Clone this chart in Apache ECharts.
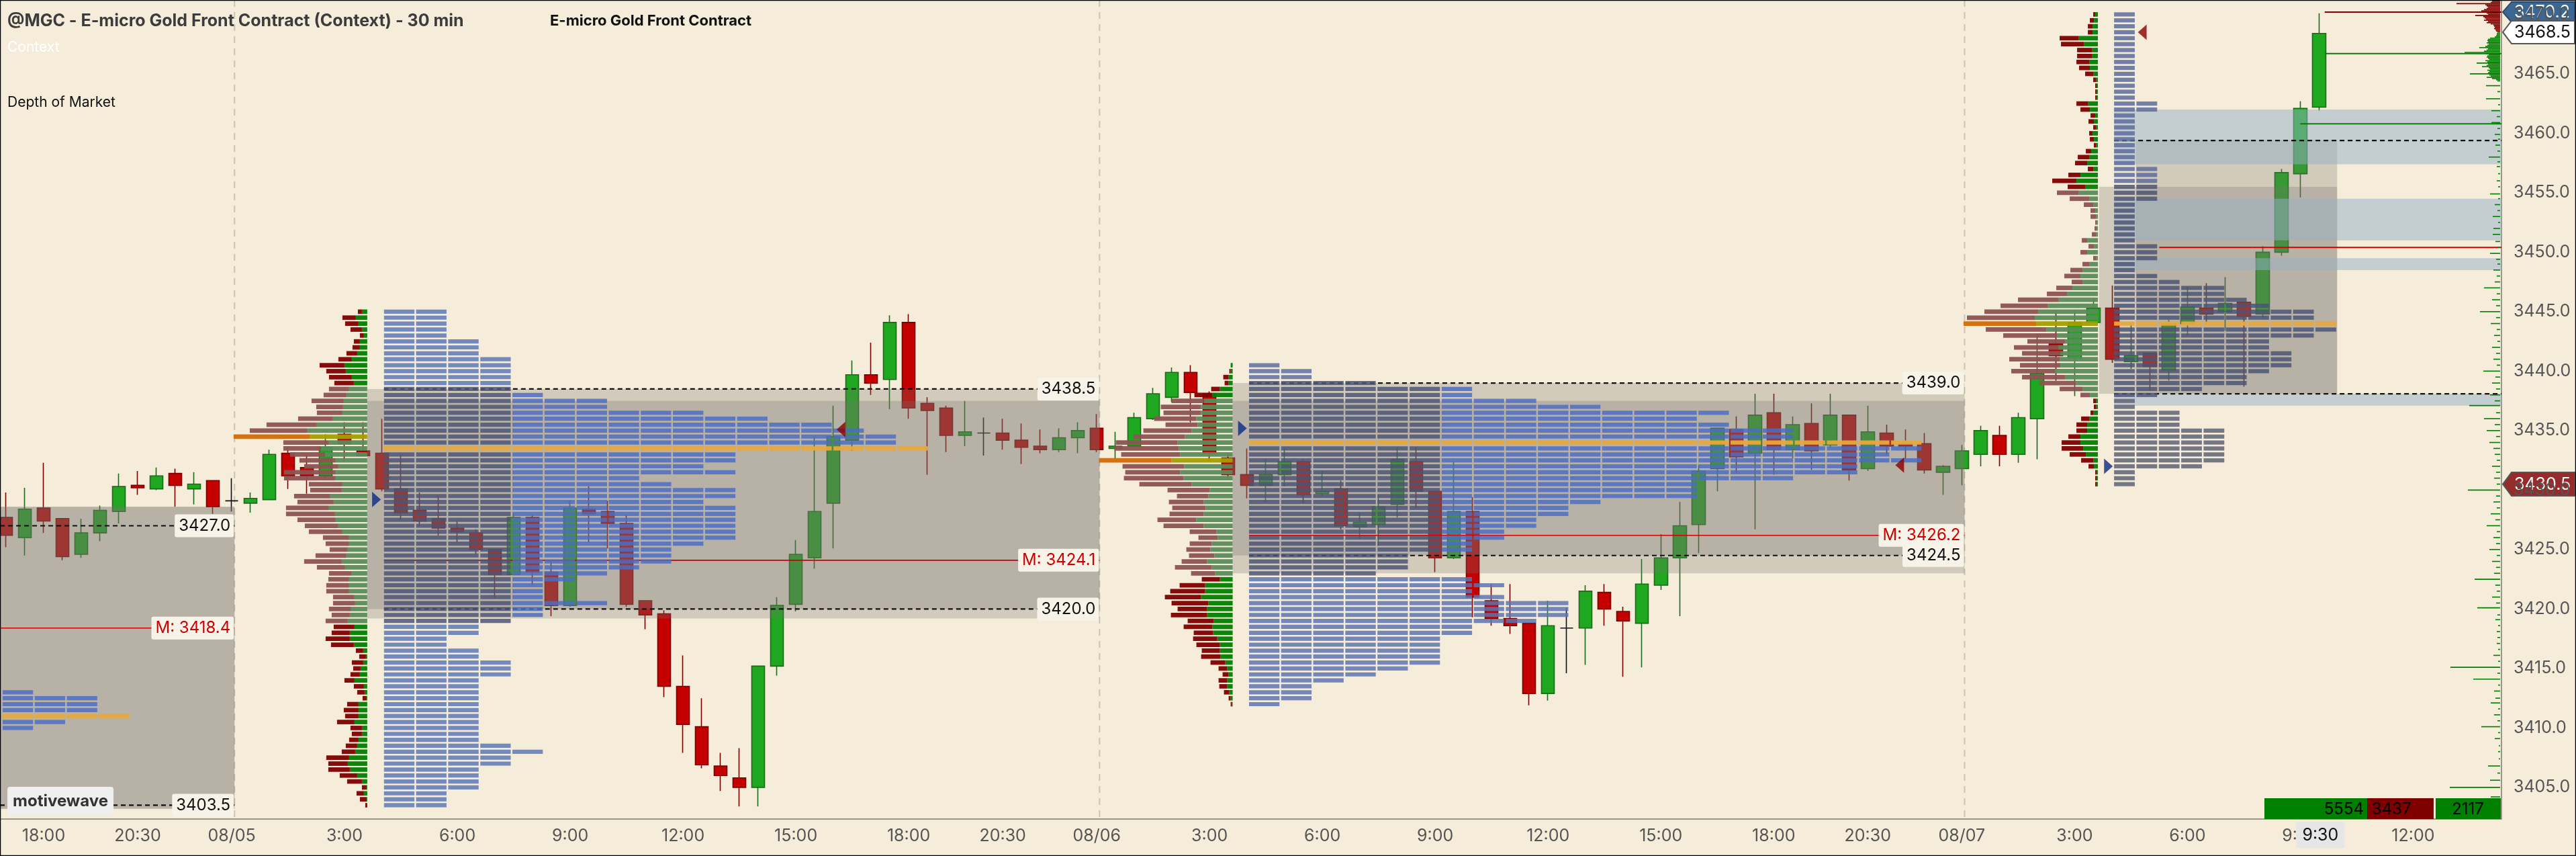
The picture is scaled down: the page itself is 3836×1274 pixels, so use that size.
<!DOCTYPE html>
<html>
<head>
<meta charset="utf-8">
<title>@MGC - E-micro Gold Front Contract (Context) - 30 min</title>
<script src="https://cdn.jsdelivr.net/npm/echarts@6.0.0/dist/echarts.min.js"></script>
<style>
html,body{margin:0;padding:0;background:#f5ecda;overflow:hidden}
#chart{width:3836px;height:1274px}
</style>
</head>
<body>
<div id="chart"></div>
<script>
// ======================= DATA =======================
// 30-min bars, bar index 0 = 08/04 18:00
const firstBar = -2;
const opens = [
 3427.7,3426.0,3428.5,3427.6,3424.6,3426.4,3428.2,3430.4,3430.1,3431.4,
 3430.1,3430.8,3429.1,3428.9,3429.2,3433.1,3431.9,3431.2,3434.7,3433.3,
 3433.1,3430.1,3428.3,3427.6,3426.8,3426.4,3425.0,3422.9,3427.7,3423.1,
 3420.3,3428.4,3428.2,3427.2,3420.7,3419.6,3413.5,3410.1,3406.8,3405.8,
 3405.0,3415.2,3420.4,3424.3,3428.9,3434.2,3439.7,3439.3,3444.1,3437.3,
 3436.9,3434.6,3434.8,3434.8,3434.2,3433.7,3433.4,3434.4,3435.2,3433.5,
 3433.7,3436.0,3437.8,3439.9,3438.1,3432.7,3431.3,3430.4,3431.3,3432.4,
 3429.7,3430.1,3426.9,3427.1,3428.8,3432.4,3429.9,3424.3,3428.2,3420.7,
 3419.2,3418.8,3412.9,3418.4,3418.4,3421.4,3419.8,3418.8,3422.0,3424.3,
 3427.1,3431.8,3435.1,3433.1,3436.5,3433.4,3435.6,3433.8,3436.3,3431.8,
 3434.8,3433.9,3433.9,3431.5,3431.8,3433.0,3434.6,3433.0,3436.0,3442.3,
 3441.1,3444.1,3445.3,3440.8,3441.5,3440.1,3444.0,3445.3,3445.0,3445.8,
 3444.8,3450.0,3456.6,3462.2];
const closes = [
 3426.2,3428.4,3427.4,3424.4,3426.4,3428.3,3430.3,3430.2,3431.2,3430.4,
 3430.5,3428.6,3429.1,3429.3,3433.0,3431.2,3431.2,3433.6,3433.9,3432.9,
 3430.1,3428.1,3427.4,3426.8,3426.5,3425.0,3422.9,3427.7,3423.1,3420.3,
 3428.5,3428.0,3427.2,3420.4,3419.5,3413.5,3410.3,3406.9,3406.0,3405.0,
 3415.2,3420.3,3424.6,3428.2,3434.5,3439.7,3439.0,3444.1,3436.9,3436.7,
 3434.6,3434.9,3434.8,3434.2,3433.6,3433.4,3434.4,3435.0,3433.4,3433.7,
 3436.1,3438.1,3439.9,3438.2,3433.1,3431.3,3430.4,3431.3,3432.4,3429.6,
 3429.9,3427.0,3427.3,3428.6,3432.6,3429.9,3424.3,3428.2,3421.0,3419.2,
 3418.6,3412.9,3418.6,3418.4,3421.5,3420.0,3419.0,3422.1,3424.3,3427.0,
 3431.6,3435.2,3432.8,3436.3,3433.4,3435.5,3433.3,3436.3,3431.7,3434.9,
 3433.7,3433.7,3431.7,3432.0,3433.3,3435.0,3433.0,3436.1,3439.8,3441.3,
 3444.1,3445.3,3441.0,3441.3,3440.4,3444.0,3445.4,3444.8,3445.7,3444.6,
 3450.0,3456.7,3462.1,3468.4];
const lows = [
 3425.2,3424.5,3426.4,3424.1,3424.3,3425.7,3427.2,3429.6,3430.0,3428.6,
 3428.8,3428.0,3428.2,3428.1,3429.2,3430.1,3429.7,3431.0,3432.4,3432.9,
 3429.9,3427.5,3427.0,3426.2,3425.6,3424.6,3420.9,3422.9,3422.0,3419.4,
 3420.2,3425.6,3425.1,3420.2,3418.3,3412.6,3407.9,3406.6,3404.7,3403.4,
 3403.4,3414.4,3419.8,3423.4,3425.1,3433.3,3438.0,3436.8,3436.0,3431.3,
 3433.2,3433.7,3432.9,3433.4,3432.2,3433.1,3433.2,3433.1,3433.2,3432.6,
 3433.6,3435.9,3437.4,3435.7,3432.5,3430.9,3429.3,3429.0,3430.3,3428.9,
 3429.5,3426.7,3425.9,3425.3,3427.7,3428.5,3423.1,3424.2,3419.3,3418.6,
 3417.9,3411.9,3412.3,3414.6,3415.3,3418.6,3414.3,3415.1,3421.6,3419.4,
 3424.7,3429.9,3431.4,3426.7,3431.3,3432.7,3431.7,3433.6,3430.8,3431.6,
 3433.0,3432.6,3431.4,3429.6,3430.4,3432.0,3432.0,3432.3,3432.6,3439.2,
 3437.9,3444.0,3440.7,3440.2,3438.4,3439.2,3443.0,3443.9,3443.4,3438.7,
 3444.5,3449.7,3454.6,3461.9];
const highs = [
 3429.8,3430.2,3432.3,3427.6,3427.6,3428.7,3431.4,3431.6,3431.9,3431.8,
 3431.5,3430.8,3431.0,3429.8,3433.4,3433.7,3432.9,3434.7,3435.7,3435.7,
 3436.0,3432.9,3429.8,3429.5,3427.4,3426.7,3425.0,3428.0,3427.9,3424.0,
 3429.1,3430.3,3429.1,3427.9,3420.7,3419.9,3416.1,3412.5,3407.9,3408.3,
 3415.2,3421.0,3425.8,3434.4,3437.1,3440.9,3442.4,3444.7,3444.8,3437.8,
 3437.1,3437.5,3436.1,3436.0,3435.6,3435.1,3435.2,3435.7,3436.4,3434.9,
 3436.5,3438.6,3440.3,3440.5,3438.3,3433.1,3433.5,3432.6,3433.5,3432.6,
 3431.6,3430.8,3428.1,3429.6,3433.6,3433.6,3429.9,3432.4,3429.4,3422.1,
 3422.1,3418.8,3420.7,3420.1,3422.0,3422.1,3420.2,3424.2,3426.3,3429.0,
 3432.1,3435.2,3436.2,3438.1,3438.1,3436.2,3437.3,3438.1,3436.3,3437.1,
 3435.5,3435.1,3434.8,3432.1,3433.8,3435.4,3435.4,3436.5,3443.1,3445.1,
 3445.1,3446.1,3447.2,3444.0,3441.5,3444.3,3447.1,3447.4,3447.9,3445.8,
 3450.5,3457.0,3462.7,3470.1];

const timeTickIdx = [0,5,10,16,22,28,34,40,46,51,56,62,68,74,80,86,92,97,102,108,114,120,126];
const timeTickLabels = ['18:00','20:30','08/05','3:00','6:00','9:00','12:00','15:00','18:00','20:30','08/06','3:00','6:00','9:00','12:00','15:00','18:00','20:30','08/07','3:00','6:00','9:00','12:00'];
const sessionBreakIdx = [10.15, 56.15, 102.15];
const crosshairIdx = 121, crosshairLabel = '9:30';

// Volume profiles (sell / buy volume per 0.5 row, top row first)
const vp0805Top = 3445.0;
const vp0805Sell = [6,20,20,17,6,9,11,16,20,37,29,34,29,30,34,48,40,38,52,75,86,114,68,56,52,54,51,77,77,50,47,54,54,64,73,57,50,50,39,35,27,46,56,42,34,31,34,34,32,33,33,27,33,31,27,36,34,11,10,17,11,14,15,15,11,6,17,22,20,26,17,15,14,17,20,34,29,32,26,22,7,11,10,3];
const vp0805Buy  = [8,17,13,8,5,11,11,15,23,34,32,23,20,27,31,35,36,37,51,75,89,85,57,69,63,47,43,47,47,37,38,55,50,57,48,47,43,37,27,27,29,31,38,33,23,27,27,27,19,18,24,26,29,19,26,26,20,6,2,6,10,11,19,5,4,1,13,13,13,19,8,8,13,15,18,27,29,26,15,8,1,5,1,0];
const vp0806Top = 3440.5;
const vp0806Sell = [0,2,8,6,13,26,48,60,56,63,48,72,77,92,96,88,108,92,82,89,78,63,47,52,50,51,58,60,40,29,33,36,38,38,55,36,27,38,52,54,55,44,54,39,43,29,36,35,27,29,22,13,9,13,12,8,3,2];
const vp0806Buy  = [3,3,6,6,19,31,43,47,47,54,52,61,71,82,80,78,91,72,78,73,61,34,36,43,40,43,54,43,24,22,31,33,27,38,31,26,19,41,41,47,36,38,38,28,30,29,23,19,19,18,11,8,6,8,8,5,3,1];
const vp0807Top = 3470.0;
const vp0807Sell = [3,6,7,7,28,34,22,22,19,16,12,4,2,2,2,17,14,7,8,4,5,6,3,8,17,18,8,18,36,26,32,29,14,7,8,2,3,6,8,8,10,4,10,18,24,16,24,30,60,70,80,101,108,90,80,56,66,57,75,60,65,64,54,34,14,4,3,4,12,16,16,18,28,32,24,18,8,2,2,2];
const vp0807Buy  = [4,6,8,8,29,21,9,9,13,12,7,3,2,2,2,15,12,4,6,3,8,6,3,10,13,16,7,26,32,19,29,13,7,4,3,2,2,3,16,6,16,3,13,23,26,23,38,46,59,75,89,94,92,77,61,49,59,56,57,56,64,49,33,23,12,3,3,7,13,16,16,26,26,22,18,7,6,2,2,2];
const vpVaHigh = [3438.5, 3437.5, 3455.0];
const vpVaLow  = [3419.0, 3423.0, 3438.0];

// TPO counts per 0.5 row (top row first)
const tpoPrevTop = 3413.0;
const tpoPrev = [1,3,3,3,4,2,1];
const tpo0805Top = 3445.0;
const tpo0805 = [2,2,2,2,2,3,3,3,4,4,4,4,4,4,5,7,7,10,12,14,15,16,16,17,11,11,10,11,8,9,11,11,10,11,11,11,11,11,11,10,9,9,9,8,7,6,5,5,5,7,5,5,4,3,3,2,2,3,3,4,4,4,3,3,3,3,3,3,3,3,3,3,3,4,5,4,4,3,3,3,3,2,2,2];
const tpo0806Top = 3440.5;
const tpo0806 = [1,2,2,4,7,7,9,11,15,14,15,17,17,21,21,20,21,19,19,17,14,14,14,11,10,10,9,9,8,8,7,7,5,5,5,4,7,8,7,8,10,10,10,9,7,7,6,6,6,6,6,5,4,3,2,2,2,1];
const tpo0807Top = 3470.0;
const tpo0807 = [1,1,1,1,1,1,1,1,1,1,1,1,1,1,1,2,2,1,1,1,1,1,1,1,1,1,2,2,2,2,2,2,1,1,1,1,1,1,1,2,2,2,1,1,2,3,5,5,6,7,9,9,10,10,9,7,7,8,8,8,7,6,6,4,2,1,1,3,3,3,5,5,5,5,5,5,4,1,1,1];
const tpoVaHigh = [3413.5, 3438.5, 3439.0, 3455.5];
const tpoVaLow  = [3409.5, 3419.0, 3423.0, 3438.0];

// Value-area boxes (price ranges)
const boxHigh = [3428.6, 3428.6, 3438.5, 3437.5, 3439.0, 3437.5, 3459.45, 3455.5];
const boxLow  = [3403.2, 3403.2, 3420.0, 3419.2, 3424.5, 3423.0, 3438.1, 3438.1];
const boxSession = [0, 0, 1, 1, 2, 2, 3, 3];
const boxPart = [0, 0, 0, 0, 0, 0, 1, 0];

// Single-print / excess bands of 08/07
const bandHigh = [3462.0, 3454.5, 3449.5, 3438.1];
const bandLow  = [3457.4, 3451.0, 3448.5, 3437.1];

// Reference levels: price, session, kind (0 = VA edge, 1 = mid)
const levelPrice   = [3427.0, 3403.5, 3418.4, 3438.5, 3420.0, 3424.1, 3439.0, 3424.5, 3426.2, 3459.4, 3438.1];
const levelSession = [0, 0, 0, 1, 1, 1, 2, 2, 2, 3, 3];
const levelKind    = [0, 0, 1, 0, 0, 1, 0, 0, 1, 0, 0];

// Naked levels of 08/07 (start bar, price, side 0 = sell / 1 = buy / 2 = mid)
const nakedPrice = [3470.2, 3466.7, 3460.8, 3450.4];
const nakedFrom  = [121.3, 121.3, 120.0, 112.5];
const nakedSide  = [0, 1, 1, 2];

// Open / close markers
const markerBar   = [17.7, 42.4, 63.75, 98.7, 109.8, 111.6];
const markerPrice = [3429.2, 3435.1, 3435.2, 3432.1, 3432.0, 3468.5];
const markerDir   = [1, -1, 1, -1, 1, -1];

// Depth of market
const askPrice = [3468.6,3468.7,3468.8,3468.9,3469.0,3469.1,3469.2,3469.3,3469.4,3469.5,3469.6,3469.7,3469.8,3469.9,3470.0,3470.1,3470.2,3470.3,3470.4,3470.5,3470.6,3470.7,3470.8,3470.9,3471.0,3471.1,3471.2];
const askSize  = [6,7,9,8,9,10,14,20,18,24,21,23,25,37,18,20,22,28,24,20,18,20,22,65,14,12,8];
const bidPrice = [3468.5,3468.4,3468.3,3468.2,3468.1,3468.0,3467.9,3467.8,3467.7,3467.6,3467.5,3467.4,3467.3,3467.2,3467.1,3467.0,3466.9,3466.8,3466.7,3466.6,3466.5,3466.4,3466.3,3466.2,3466.1,3466.0,3465.9,3465.8,3465.7,3465.6,3465.5,3465.4,3465.3,3465.2,3465.1,3465.0,3464.9,3464.8,3464.7,3464.6,3464.5,3464.4,
 3464.0,3463.5,3462.9,3462.4,3461.9,3461.4,3460.9,3460.8,3460.4,3459.9,3459.5,3459.0,3458.5,3458.0,3457.6,3457.2,3456.6,3456.0,3455.5,3454.9,3454.5,3454.0,3453.5,3453.0,3452.5,3452.0,3451.5,3450.9,3450.4,3449.9,3449.4,3449.0,3448.5,3448.0,3447.5,3447.0,3446.5,3446.0,3445.5,3445.0,3444.5,3444.0,3443.5,3443.0,3442.5,3442.0,3441.5,3441.0,3440.5,3440.0,3439.5,3439.0,3438.5,3438.0,3437.5,3437.1,3436.5,3436.0,3435.5,3435.0,3434.5,3434.0,3433.5,3433.0,3432.5,3432.0,3431.5,3431.0,3430.5,3430.0,3429.5,3429.0,3428.5,3428.0,3427.5,3427.0,3426.5,3426.0,3425.5,3425.0,3424.5,3424.0,3423.5,3423.0,3422.5,3422.0,3421.5,3421.0,3420.5,3420.1,3419.5,3419.1,3418.6,3418.1,3417.6,3417.1,3416.6,3416.1,3415.6,3415.1,3414.6,3414.1,3413.6,3413.1,3412.5,3412.1,3411.6,3411.1,3410.6,3410.1,3409.6,3409.1,3408.5,3408.0,3407.4,3406.8,3406.2,3405.6,3405.0,3404.2,3403.5,3403.0,3402.6];
const bidSize  = [4,5,5,6,8,15,18,19,18,20,17,19,22,31,18,20,24,53,21,17,19,20,18,16,22,19,35,18,20,27,17,15,19,16,18,45,16,14,20,12,6,4,
 21,4,21,3,13,5,13,6,4,8,3,7,4,17,4,5,3,5,3,15,3,8,4,11,3,10,11,7,4,15,6,4,10,5,8,24,5,12,6,30,6,14,5,9,4,12,6,10,5,25,7,12,6,15,8,46,6,24,8,20,6,16,10,8,5,12,6,9,5,48,6,10,5,14,7,20,5,10,6,16,5,12,6,9,38,7,5,12,6,34,4,7,3,5,4,5,3,10,3,74,4,40,3,9,7,14,3,9,4,28,3,8,2,3,2,18,4,15,75,14,8,5,4];
const domTotals = [5554, 3437, 2117];

// Price tags on the axis
const tagHigh = 3470.2, tagLast = 3468.5, tagRef = 3430.5;

// ======================= LAYOUT / STYLE =======================
const X_MIN = -2.32, X_MAX = 130.7, Y_MIN = 3402.34, Y_MAX = 3471.21;
const ROW = 0.5;
const VOL_PER_BAR = 28;   // volume units drawn across one bar width
const FONT = 'Inter, Roboto, "Noto Sans", sans-serif';
const sessionX = [[X_MIN, 10.15], [17.21, 56.15], [63.23, 102.15], [109.3, 121.96]];
const levelStart = [X_MIN, 18.1, 64.1, 110.1];
const levelEnd = [10.15, 56.15, 102.15, X_MAX];
const box0807Inner = 111.25;
const vpRight = [17.21, 63.23, 109.24];
const tpoStart = [-2.18, 18.1, 64.1, 110.1];
const tpoSeg = [1.707, 1.707, 1.707, 1.19];
const tpoDarkCols = [0, 4, 6, 99];
const tpoAbove = ['#5b76b6', '#5b76b6', '#5b6c9e', '#5b6a9c'];
const tpoBelow = ['#5b76b6', '#5b76b6', '#5a73b0', '#5c6274'];

const vpSets = [[vp0805Top, vp0805Sell, vp0805Buy], [vp0806Top, vp0806Sell, vp0806Buy], [vp0807Top, vp0807Sell, vp0807Buy]];
const tpoSets = [[tpoPrevTop, tpoPrev], [tpo0805Top, tpo0805], [tpo0806Top, tpo0806], [tpo0807Top, tpo0807]];

// ---- build series data ----
const candleData = opens.map((o, i) => [firstBar + i, o, closes[i], lows[i], highs[i]]);

const vpData = [];
vpSets.forEach(([top, sell, buy], s) => {
  let poc = 0;
  sell.forEach((v, i) => { if (v + buy[i] > sell[poc] + buy[poc]) poc = i; });
  sell.forEach((v, i) => {
    const price = top - i * ROW;
    const flag = i === poc ? 2 : (price <= vpVaHigh[s] && price >= vpVaLow[s] ? 1 : 0);
    vpData.push([vpRight[s], price, v, buy[i], flag]);
  });
});

const tpoData = [];
tpoSets.forEach(([top, counts], s) => {
  let poc = 0;
  counts.forEach((c, i) => { if (c > counts[poc]) poc = i; });
  counts.forEach((c, i) => {
    const price = top - i * ROW;
    const flag = i === poc ? 2 : (price <= tpoVaHigh[s] && price >= tpoVaLow[s] ? 1 : (price > tpoVaHigh[s] ? 0 : 3));
    tpoData.push([tpoStart[s], price, c, s, flag]);
  });
});

const boxData = boxHigh.map((h, i) => {
  const s = boxSession[i];
  const x1 = boxPart[i] ? box0807Inner : sessionX[s][0];
  return [x1, h, sessionX[s][1], boxLow[i]];
});
const bandData = bandHigh.map((h, i) => [levelStart[3], h, X_MAX, bandLow[i]]);
const levelData = levelPrice.map((p, i) => [levelStart[levelSession[i]], p, levelEnd[levelSession[i]], levelKind[i]]);
const labelData = levelPrice.map((p, i) => [levelEnd[levelSession[i]], p, levelKind[i], levelSession[i]]).filter(d => d[3] < 3);
const nakedData = nakedPrice.map((p, i) => [nakedFrom[i], p, nakedSide[i]]);
const breakData = sessionBreakIdx.map(x => [x, Y_MIN]);
const domData = askPrice.map((p, i) => [X_MAX, p, askSize[i], 0]).concat(bidPrice.map((p, i) => [X_MAX, p, bidSize[i], 1]));
const markerData = markerBar.map((x, i) => ({
  value: [x, markerPrice[i]],
  symbolRotate: markerDir[i] > 0 ? -90 : 90,
  itemStyle: {color: markerDir[i] > 0 ? '#0d2b82' : '#8a0000'}
}));

// ---- renderers ----
function rectFrom(api, x1, y1, x2, y2) {
  const a = api.coord([x1, y1]), b = api.coord([x2, y2]);
  return {x: Math.min(a[0], b[0]), y: Math.min(a[1], b[1]), width: Math.abs(b[0] - a[0]), height: Math.abs(b[1] - a[1])};
}
function renderBreak(params, api) {
  const x = api.value(0);
  const a = api.coord([x, Y_MAX]), b = api.coord([x, Y_MIN]);
  return {type: 'line', shape: {x1: a[0], y1: a[1], x2: b[0], y2: b[1]}, style: {stroke: '#cbc3b3', lineWidth: 2, lineDash: [10, 8]}};
}
function renderBox(params, api) {
  return {type: 'rect', shape: rectFrom(api, api.value(0), api.value(1), api.value(2), api.value(3)), style: {fill: 'rgba(118,114,108,0.28)'}};
}
function renderBand(params, api) {
  return {type: 'rect', shape: rectFrom(api, api.value(0), api.value(1), api.value(2), api.value(3)), style: {fill: 'rgba(148,176,198,0.5)'}};
}
function renderLevel(params, api) {
  const a = api.coord([api.value(0), api.value(1)]), b = api.coord([api.value(2), api.value(1)]);
  const mid = api.value(3) === 1;
  return {type: 'line', shape: {x1: a[0], y1: a[1], x2: b[0], y2: b[1]},
    style: mid ? {stroke: '#d20000', lineWidth: 1.6} : {stroke: '#111', lineWidth: 2.2, lineDash: [7, 5]}};
}
function renderLabel(params, api) {
  const p = api.coord([api.value(0), api.value(1)]);
  const mid = api.value(2) === 1;
  const txt = (mid ? 'M: ' : '') + api.value(1).toFixed(1);
  return {type: 'text', x: p[0] - 1, y: p[1], style: {text: txt, fill: mid ? '#d00000' : '#111', font: '24px ' + FONT,
    align: 'right', verticalAlign: 'middle', backgroundColor: '#f8f3e8', padding: [6, 5, 4, 6], borderRadius: 3}};
}
const TPO_POC = '#e8a83a', TPO_DARK = '#4b5473', TPO_MID = '#4b6cc2';
function renderTpo(params, api) {
  const s = api.value(3), flag = api.value(4), cnt = api.value(2);
  const p = api.coord([api.value(0), api.value(1)]);
  const segW = api.size([tpoSeg[s], 0])[0];
  const h = api.size([0, 0.35])[1];
  const kids = [];
  for (let k = 0; k < cnt; k++) {
    const fill = flag === 2 ? TPO_POC : flag === 1 ? (k < tpoDarkCols[s] ? TPO_DARK : TPO_MID) : flag === 0 ? tpoAbove[s] : tpoBelow[s];
    kids.push({type: 'rect', shape: {x: p[0] + k * segW, y: p[1] - h / 2, width: segW - 2.5, height: h},
      style: {fill: fill, opacity: flag === 2 ? 0.95 : 0.84}});
  }
  return {type: 'group', children: kids};
}
function renderVp(params, api) {
  const p = api.coord([api.value(0), api.value(1)]);
  const ppb = api.size([1, 0])[0];
  const sw = api.value(2) / VOL_PER_BAR * ppb, bw = api.value(3) / VOL_PER_BAR * ppb;
  const h = api.size([0, 0.38])[1];
  const flag = api.value(4);
  const c = flag === 2 ? ['#d26a06', '#a39e00'] : flag === 1 ? ['#8c5353', '#5b8b5b'] : ['#800000', '#008000'];
  return {type: 'group', children: [
    {type: 'rect', shape: {x: p[0] - bw, y: p[1] - h / 2, width: bw, height: h}, style: {fill: c[1], opacity: 0.95}},
    {type: 'rect', shape: {x: p[0] - bw - sw, y: p[1] - h / 2, width: sw, height: h}, style: {fill: c[0], opacity: 0.95}}
  ]};
}
function renderNaked(params, api) {
  const a = api.coord([api.value(0), api.value(1)]), b = api.coord([X_MAX, api.value(1)]);
  const col = ['#870000', '#0a7d0a', '#d40000'][api.value(2) === 2 ? 2 : api.value(2)];
  return {type: 'line', shape: {x1: a[0], y1: a[1], x2: b[0], y2: b[1]}, style: {stroke: col, lineWidth: 2}};
}
function renderDom(params, api) {
  const p = api.coord([api.value(0), api.value(1)]);
  const w = api.size([api.value(2) / VOL_PER_BAR, 0])[0];
  const h = api.size([0, 0.1])[1];
  return {type: 'rect', shape: {x: p[0] - w - 2, y: p[1] - h / 2, width: w, height: Math.max(h * 0.92, 1.3)},
    style: {fill: api.value(3) === 0 ? '#800000' : '#008000'}};
}

const labelMap = {};
timeTickIdx.forEach((v, i) => { labelMap[v] = timeTickLabels[i]; });

const chart = echarts.init(document.getElementById('chart'));
chart.setOption({
  backgroundColor: '#f5ecda',
  animation: false,
  textStyle: {fontFamily: FONT},
  title: [
    {text: '@MGC - E-micro Gold Front Contract (Context) - 30 min', left: 11, top: 19, padding: 0,
      textStyle: {fontSize: 25, fontWeight: 'bold', color: '#3c3c3c', fontFamily: FONT}},
    {text: 'E-micro Gold Front Contract', left: 819, top: 20, padding: 0,
      textStyle: {fontSize: 22, fontWeight: 'bold', color: '#111', fontFamily: FONT}},
    {text: 'Context', left: 11, top: 60, padding: 0, textStyle: {fontSize: 21, fontWeight: 'normal', color: '#ffffff', fontFamily: FONT}},
    {text: 'Depth of Market', left: 11, top: 142, padding: 0, textStyle: {fontSize: 21, fontWeight: 'normal', color: '#111', fontFamily: FONT}}
  ],
  grid: {left: 0, right: 111, top: 0, bottom: 55},
  xAxis: {
    type: 'value', min: X_MIN, max: X_MAX,
    splitLine: {show: false},
    axisLine: {show: true, onZero: false, lineStyle: {color: '#9b968c', width: 2}},
    axisTick: {show: false},
    axisLabel: {customValues: timeTickIdx, formatter: v => labelMap[Math.round(v)] || '', color: '#555', fontSize: 25, margin: 13, fontFamily: FONT}
  },
  yAxis: {
    type: 'value', position: 'right', min: Y_MIN, max: Y_MAX, splitNumber: 14, scale: true,
    splitLine: {show: false},
    axisLine: {show: true, onZero: false, lineStyle: {color: '#9b968c', width: 2}},
    axisTick: {show: false},
    axisLabel: {showMinLabel: false, showMaxLabel: false, color: '#555', fontSize: 25, margin: 18, fontFamily: FONT,
      formatter: v => (Math.abs(v / 5 - Math.round(v / 5)) < 1e-6 ? v.toFixed(1) : '')}
  },
  series: [
    {type: 'custom', name: 'breaks', z: 1, data: breakData, encode: {x: 0, y: 1}, renderItem: renderBreak, silent: true},
    {type: 'candlestick', name: 'MGC', z: 2, barWidth: 20, data: candleData, encode: {x: 0, y: [1, 2, 3, 4]},
      itemStyle: {color: '#1fa81f', color0: '#c40000', borderColor: '#1b6a1b', borderColor0: '#7a0000', borderColorDoji: '#111', borderWidth: 1.6}},
    {type: 'custom', name: 'value areas', z: 3, clip: true, data: boxData, encode: {x: [0, 2], y: [1, 3]}, renderItem: renderBox, silent: true},
    {type: 'custom', name: 'bands', z: 3, clip: true, data: bandData, encode: {x: [0, 2], y: [1, 3]}, renderItem: renderBand, silent: true},
    {type: 'custom', name: 'levels', z: 4, clip: true, data: levelData, encode: {x: [0, 2], y: 1}, renderItem: renderLevel, silent: true},
    {type: 'custom', name: 'tpo', z: 5, clip: true, data: tpoData, encode: {x: 0, y: 1}, renderItem: renderTpo, silent: true},
    {type: 'custom', name: 'volume profile', z: 5, clip: true, data: vpData, encode: {x: 0, y: 1}, renderItem: renderVp, silent: true},
    {type: 'custom', name: 'naked', z: 6, clip: true, data: nakedData, encode: {x: 0, y: 1}, renderItem: renderNaked, silent: true},
    {type: 'custom', name: 'dom', z: 6, clip: true, data: domData, encode: {x: 0, y: 1}, renderItem: renderDom, silent: true},
    {type: 'custom', name: 'labels', z: 7, data: labelData, encode: {x: 0, y: 1}, renderItem: renderLabel, silent: true},
    {type: 'scatter', name: 'markers', z: 7, symbol: 'triangle', symbolSize: [23, 13], data: markerData, silent: true}
  ]
});

// ---- overlay decorations positioned via the axes ----
const xPx = v => chart.convertToPixel({xAxisIndex: 0}, v);
const yPx = v => chart.convertToPixel({yAxisIndex: 0}, v);
const xr = xPx(X_MAX), yb = yPx(Y_MIN);
function tag(price, bg, fg, stroke, h) {
  const y = yPx(price);
  return {type: 'group', z: 100, children: [
    {type: 'polygon', shape: {points: [[xr + 2, y], [xr + 15, y - h / 2], [3834, y - h / 2], [3834, y + h / 2], [xr + 15, y + h / 2]]},
      style: {fill: bg, stroke: stroke, lineWidth: 2}},
    {type: 'text', x: xr + 19, y: y + 1, style: {text: price.toFixed(1), fill: fg, font: '25px ' + FONT, verticalAlign: 'middle', align: 'left'}}
  ]};
}
const cx = xPx(crosshairIdx);
chart.setOption({
  graphic: [
    tag(tagHigh, '#3b6792', '#ffffff', '#2b4c70', 30),
    tag(tagLast, '#ffffff', '#111111', '#555555', 34),
    tag(tagRef, '#962b2b', '#ffffff', '#555555', 35),
    {type: 'rect', z: 100, shape: {x: cx - 34, y: yb + 4, width: 72, height: 39}, style: {fill: '#e6e6e6'}},
    {type: 'text', z: 101, x: cx + 2, y: yb + 24, style: {text: crosshairLabel, fill: '#111', font: '25px ' + FONT, align: 'center', verticalAlign: 'middle'}},
    {type: 'rect', z: 100, shape: {x: xr - 353, y: yb - 31, width: 153, height: 31}, style: {fill: '#007f00'}},
    {type: 'rect', z: 100, shape: {x: xr - 200, y: yb - 31, width: 99, height: 31}, style: {fill: '#800000'}},
    {type: 'rect', z: 100, shape: {x: xr - 98, y: yb - 31, width: 97, height: 31}, style: {fill: '#007f00'}},
    {type: 'text', z: 101, x: xr - 205, y: yb - 14, style: {text: String(domTotals[0]), fill: '#000', font: '24px ' + FONT, align: 'right', verticalAlign: 'middle'}},
    {type: 'text', z: 101, x: xr - 193, y: yb - 14, style: {text: String(domTotals[1]), fill: '#000', font: '24px ' + FONT, align: 'left', verticalAlign: 'middle'}},
    {type: 'text', z: 101, x: xr - 50, y: yb - 14, style: {text: String(domTotals[2]), fill: '#000', font: '24px ' + FONT, align: 'center', verticalAlign: 'middle'}},
    {type: 'rect', z: 100, shape: {x: 11, y: 1171, width: 158, height: 42, r: 4}, style: {fill: '#efefef'}},
    {type: 'text', z: 101, x: 90, y: 1193, style: {text: 'motivewave', fill: '#333', font: 'bold 24px ' + FONT, align: 'center', verticalAlign: 'middle'}},
    {type: 'rect', z: 120, shape: {x: 0.5, y: 0.5, width: 3835, height: 1273}, style: {fill: 'none', stroke: '#000', lineWidth: 1.5}}
  ]
});
</script>
</body>
</html>
